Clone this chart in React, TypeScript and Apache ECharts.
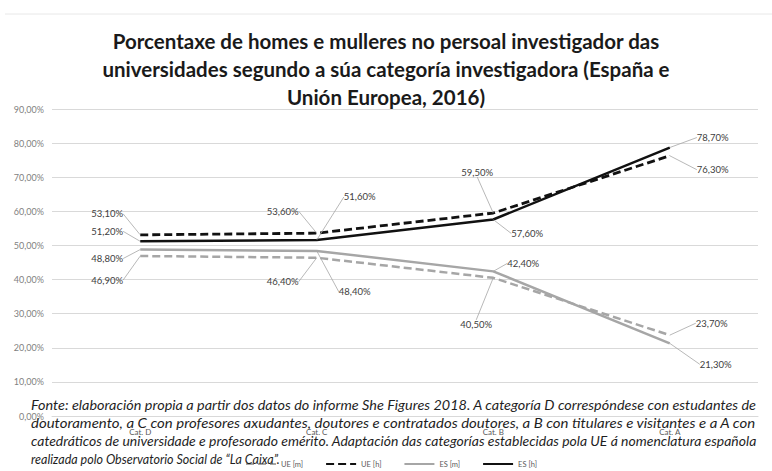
import React, { useEffect, useRef } from "react";
import * as echarts from "echarts";

const categories = ["Cat. D", "Cat. C", "Cat. B", "Cat. A"];
const ueM = [46.9, 46.4, 40.5, 23.7];
const ueH = [53.1, 53.6, 59.5, 76.3];
const esM = [48.8, 48.4, 42.4, 21.3];
const esH = [51.2, 51.6, 57.6, 78.7];
const seriesNames = ["UE [m]", "UE [h]", "ES [m]", "ES [h]"];
const yMin = 0;
const yMax = 90;
const yInterval = 10;

const titleText =
  "Porcentaxe de homes e mulleres no persoal investigador das\nuniversidades segundo a súa categoría investigadora (España e\nUnión Europea, 2016)";

const noteLines = [
  "Fonte: elaboración propia a partir dos datos do informe She Figures 2018. A categoría D correspóndese con estudantes de",
  "doutoramento, a C con profesores axudantes, doutores e contratados doutores, a B con titulares e visitantes e a A con",
  "catedráticos de universidade e profesorado emérito. Adaptación das categorías establecidas pola UE á nomenclatura española",
  "realizada polo Observatorio Social de \u201CLa Caixa\u201D.",
];

// label offsets (label centre relative to point), layout only
const offUeM = [[-33, 24], [-34, 24], [-17, 47], [42, -12]];
const offUeH = [[-33, -21], [-34, -22], [-16, -41], [43, 14]];
const offEsM = [[-33, 9], [38, 41], [30, -8], [46, 21]];
const offEsH = [[-33, -10], [43, -43], [34, 14], [43, -10]];

const fmtPct = (v: number) => v.toFixed(2).replace(".", ",") + "%";

function makeSeries(name: string, data: number[], color: string, dashed: boolean, offsets: number[][], width: number) {
  return {
    name,
    type: "line",
    data,
    symbol: "circle",
    symbolSize: 0.5,
    showSymbol: true,
    itemStyle: { color },
    lineStyle: { color, width, type: dashed ? [8, 4] : "solid" },
    label: {
      show: true,
      formatter: (p: any) => fmtPct(p.value),
      fontSize: 9.5,
      fontFamily: "Lato",
      color: "#404040",
    },
    labelLine: { show: true, lineStyle: { color: "#a6a6a6", width: 0.8 } },
    labelLayout: (params: any) => {
      const o = offsets[params.dataIndex];
      const r = params.rect;
      return {
        x: r.x + r.width / 2 + o[0],
        y: r.y + r.height / 2 + o[1],
        align: "center",
        verticalAlign: "middle",
      };
    },
    emphasis: { disabled: true },
    z: 3,
  };
}

export default function App() {
  const ref = useRef<HTMLDivElement>(null);
  useEffect(() => {
    if (!ref.current) return;
    const chart = echarts.init(ref.current, null, { renderer: "svg" });
    const canvas = document.createElement("canvas");
    const ctx = canvas.getContext("2d")!;
    const noteFont = "italic 12.5px Lato";
    ctx.font = noteFont;
    const noteLeft = 31;
    const noteRight = 757;
    const noteTop = 405;
    const noteGap = 18.2;
    const noteGraphics = noteLines.map((t, i) => {
      const w = ctx.measureText(t).width;
      const sx = i < 3 ? (noteRight - noteLeft) / w : 1;
      return {
        type: "text",
        x: noteLeft,
        y: noteTop + i * noteGap,
        scaleX: sx,
        z: 100,
        style: { text: t, font: noteFont, fill: "#1f1f1f", textVerticalAlign: "middle" },
      };
    });
    chart.setOption({
      animation: false,
      backgroundColor: "#ffffff",
      title: {
        text: titleText,
        left: "center",
        top: 22,
        textStyle: { fontSize: 20.5, fontWeight: "bold", fontFamily: "Lato", color: "#1a1a1a", lineHeight: 28 },
      },
      grid: { left: 52, right: 14, top: 109, bottom: 55 },
      legend: {
        data: seriesNames,
        left: 240,
        top: 455,
        itemWidth: 30,
        itemHeight: 8,
        itemGap: 22,
        textStyle: { fontSize: 7.5, color: "#595959", fontFamily: "Lato" },
        itemStyle: { opacity: 0 },
      },
      xAxis: {
        type: "category",
        data: categories,
        boundaryGap: true,
        axisLine: { show: true, lineStyle: { color: "#d9d9d9" } },
        axisTick: { show: false },
        axisLabel: { fontSize: 8, color: "#595959", fontFamily: "Lato", margin: 12 },
      },
      yAxis: {
        type: "value",
        min: yMin,
        max: yMax,
        interval: yInterval,
        axisLine: { show: false },
        axisTick: { show: false },
        splitLine: { lineStyle: { color: "#d9d9d9", width: 1 } },
        axisLabel: {
          formatter: (v: number) => fmtPct(v),
          fontSize: 9,
          color: "#7f7f7f",
          fontFamily: "Lato",
          margin: 8,
        },
      },
      graphic: [
        { type: "line", shape: { x1: 5, y1: 14, x2: 772, y2: 14 }, style: { stroke: "#e8e8e8", lineWidth: 1 } },
        ...noteGraphics,
      ],
      series: [
        makeSeries(seriesNames[0], ueM, "#a6a6a6", true, offUeM, 2.5),
        makeSeries(seriesNames[1], ueH, "#111111", true, offUeH, 2.8),
        makeSeries(seriesNames[2], esM, "#a6a6a6", false, offEsM, 2.5),
        makeSeries(seriesNames[3], esH, "#111111", false, offEsH, 2.5),
      ],
    });
    return () => chart.dispose();
  }, []);
  return <div ref={ref} style={{ position: "fixed", left: 0, top: 0, width: 772, height: 471, background: "#fff" }} />;
}
